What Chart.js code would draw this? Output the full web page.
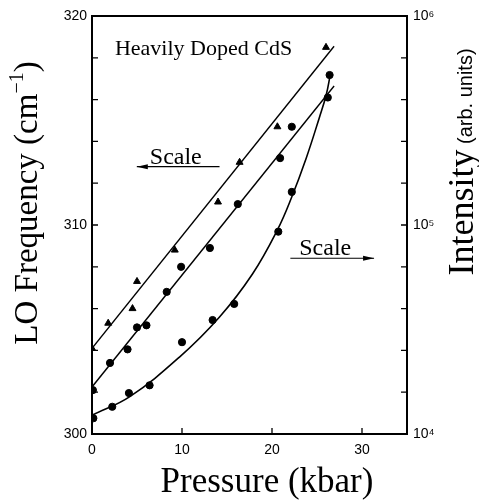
<!DOCTYPE html>
<html>
<head>
<meta charset="utf-8">
<script src="https://cdn.jsdelivr.net/npm/chart.js@4"></script>
<style>
  body { margin: 0; background: #fff; }
  #wrap { width: 479px; height: 500px; position: relative; }
</style>
</head>
<body>
<div id="wrap"><canvas id="loChart"></canvas></div>
<script>
// LO phonon frequency (triangles, upper fit line)
const triPressure = [0, 1.8, 4.5, 5.0, 9.2, 14.0, 16.4, 20.6, 26.0];
const triFreq = [304.1, 305.3, 306.0, 307.3, 308.8, 311.1, 313.0, 314.7, 318.5];
const triFitPressure = [0, 26.9];
const triFitFreq = [304.1, 318.55];

// LO phonon frequency (dots, lower fit line)
const dotPressure = [0.1, 2.0, 3.95, 5.0, 6.05, 8.3, 9.9, 13.1, 16.2, 20.9, 22.2, 26.2];
const dotFreq = [302.1, 303.4, 304.05, 305.1, 305.2, 306.8, 308.0, 308.9, 311.0, 313.2, 314.7, 316.1];
const dotFitPressure = [0, 26.9];
const dotFitFreq = [302.25, 316.65];

// Intensity (right, log axis)
const intPressure = [0.15, 2.25, 4.1, 6.4, 10.0, 13.4, 15.8, 20.7, 22.2, 26.4];
const intensity = [11900, 13500, 15700, 17100, 27500, 35100, 41900, 92900, 144000, 522000];
const intFitPressure = [0, 4.2, 9.75, 14.17, 17.83, 20.6, 22.15, 23.81, 25.25, 26.02, 26.47];
const intFit = [12300, 15100, 23400, 36300, 58300, 94700, 134600, 209400, 325300, 418800, 522800];

// axes
const xTicks = [0, 10, 20, 30];
const freqTicks = [300, 302, 304, 306, 308, 310, 312, 314, 316, 318, 320];
const freqLabels = ['300', '', '', '', '', '310', '', '', '', '', '320'];
const intTicks = [1e4, 1.585e4, 2.512e4, 3.981e4, 6.31e4, 1e5, 1.585e5, 2.512e5, 3.981e5, 6.31e5, 1e6];
const intLabels = ['10⁴', '', '', '', '', '10⁵', '', '', '', '', '10⁶'];

const pts = (xs, ys) => xs.map((x, i) => ({ x: x, y: ys[i] }));

const SERIF = '"Liberation Serif", "Times New Roman", serif';
const SANS = '"Liberation Sans", Arial, sans-serif';

const frame = {
    id: 'frame',
    afterDraw(chart) {
        const c = chart.ctx;
        const a = chart.chartArea;
        const sx = chart.scales.x, sy = chart.scales.y, sy2 = chart.scales.y2;
        c.save();
        c.strokeStyle = '#000';
        c.fillStyle = '#000';
        c.lineWidth = 2;
        c.strokeRect(a.left, a.top, a.right - a.left, a.bottom - a.top);

        // inward ticks
        c.lineWidth = 1.3;
        c.beginPath();
        xTicks.slice(1).forEach(v => {
            const px = sx.getPixelForValue(v);
            c.moveTo(px, a.bottom); c.lineTo(px, a.bottom - 6);
        });
        freqTicks.forEach(v => {
            const py = sy.getPixelForValue(v);
            c.moveTo(a.left, py); c.lineTo(a.left + 6, py);
        });
        intTicks.forEach(v => {
            const py = sy2.getPixelForValue(v);
            c.moveTo(a.right, py); c.lineTo(a.right - 6, py);
        });
        c.stroke();

        // annotations (placed in data units)
        const X = v => sx.getPixelForValue(v);
        const Y = v => sy.getPixelForValue(v);
        c.textBaseline = 'alphabetic';
        c.textAlign = 'left';
        c.font = '22px ' + SERIF;
        c.fillText('Heavily Doped CdS', X(2.55), Y(318.13));
        c.font = '24px ' + SERIF;
        c.fillText('Scale', X(6.42), Y(312.92));
        c.fillText('Scale', X(23.03), Y(308.56));

        const arrow = (x1, x2, y) => {
            c.lineWidth = 1.2;
            c.beginPath(); c.moveTo(x1, y); c.lineTo(x2, y); c.stroke();
            const d = x2 > x1 ? 1 : -1;
            c.beginPath();
            c.moveTo(x2, y);
            c.lineTo(x2 - d * 11, y - 2.5);
            c.lineTo(x2 - d * 11, y + 2.5);
            c.closePath(); c.fill();
        };
        arrow(X(14.17), X(4.98), Y(312.79));
        arrow(X(22.04), X(31.34), Y(308.41));

        // axis titles
        c.font = '35px ' + SERIF;
        c.textAlign = 'center';
        c.fillText('Pressure (kbar)', 267, 492);

        // left title, rotated
        c.save();
        c.translate(37, 203);
        c.rotate(-Math.PI / 2);
        c.textAlign = 'left';
        const p1 = 'LO Frequency (cm', p2 = '−1', p3 = ')';
        c.font = '33px ' + SERIF; const w1 = c.measureText(p1).width, w3 = c.measureText(p3).width;
        c.font = '20px ' + SERIF; const w2 = c.measureText(p2).width;
        let x0 = -(w1 + w2 + w3) / 2;
        c.font = '33px ' + SERIF; c.fillText(p1, x0, 0);
        c.font = '20px ' + SERIF; c.fillText(p2, x0 + w1, -14);
        c.font = '33px ' + SERIF; c.fillText(p3, x0 + w1 + w2, 0);
        c.restore();

        // right title, rotated
        c.save();
        c.translate(473, 162);
        c.rotate(-Math.PI / 2);
        c.textAlign = 'left';
        const q1 = 'Intensity', q2 = ' (arb. units)';
        c.font = '36px ' + SERIF; const v1 = c.measureText(q1).width;
        c.font = '20px ' + SANS; const v2 = c.measureText(q2).width;
        x0 = -(v1 + v2) / 2;
        c.font = '36px ' + SERIF; c.fillText(q1, x0, 0);
        c.font = '20px ' + SANS; c.fillText(q2, x0 + v1, -1);
        c.restore();

        c.restore();
    }
};

const ctx = document.getElementById('loChart').getContext('2d');
const loChart = new Chart(ctx, {
    type: 'scatter',
    data: {
        datasets: [
            {
                label: 'triangles',
                data: pts(triPressure, triFreq),
                pointStyle: 'triangle',
                pointRadius: 4,
                backgroundColor: '#000',
                borderColor: '#000',
                yAxisID: 'y',
            },
            {
                label: 'dots',
                data: pts(dotPressure, dotFreq),
                pointStyle: 'circle',
                pointRadius: 3.6,
                backgroundColor: '#000',
                borderColor: '#000',
                yAxisID: 'y',
            },
            {
                label: 'intensity',
                data: pts(intPressure, intensity),
                pointStyle: 'circle',
                pointRadius: 3.6,
                backgroundColor: '#000',
                borderColor: '#000',
                yAxisID: 'y2',
            },
            {
                label: 'fit 1',
                data: pts(triFitPressure, triFitFreq),
                showLine: true,
                pointRadius: 0,
                borderColor: '#000',
                borderWidth: 1.4,
                yAxisID: 'y',
            },
            {
                label: 'fit 2',
                data: pts(dotFitPressure, dotFitFreq),
                showLine: true,
                pointRadius: 0,
                borderColor: '#000',
                borderWidth: 1.4,
                yAxisID: 'y',
            },
            {
                label: 'fit 3',
                data: pts(intFitPressure, intFit),
                showLine: true,
                pointRadius: 0,
                borderColor: '#000',
                borderWidth: 1.6,
                tension: 0.4,
                yAxisID: 'y2',
            },
        ],
    },
    options: {
        responsive: true,
        maintainAspectRatio: false,
        animation: false,
        layout: { padding: { top: 16, left: 0, right: 0, bottom: 0 } },
        plugins: { legend: { display: false }, tooltip: { enabled: false } },
        scales: {
            x: {
                type: 'linear',
                min: 0,
                max: 35,
                afterBuildTicks: s => { s.ticks = xTicks.map(v => ({ value: v })); },
                afterFit: s => { s.height = 66; },
                grid: { display: false, drawTicks: false },
                border: { display: false },
                ticks: { color: '#000', padding: 8, font: { family: SANS, size: 14 } },
            },
            y: {
                type: 'linear',
                position: 'left',
                min: 300,
                max: 320,
                afterBuildTicks: s => { s.ticks = freqTicks.map(v => ({ value: v })); },
                afterFit: s => { s.width = 92; },
                grid: { display: false, drawTicks: false },
                border: { display: false },
                ticks: {
                    color: '#000', padding: 5, font: { family: SANS, size: 14 },
                    autoSkip: false,
                    callback: (v, i) => freqLabels[i],
                },
            },
            y2: {
                type: 'logarithmic',
                position: 'right',
                min: 1e4,
                max: 1e6,
                afterBuildTicks: s => { s.ticks = intTicks.map(v => ({ value: v })); },
                afterFit: s => { s.width = 72; },
                grid: { display: false, drawTicks: false },
                border: { display: false },
                ticks: {
                    color: '#000', padding: 6, font: { family: SANS, size: 14 },
                    autoSkip: false,
                    callback: (v, i) => intLabels[i],
                },
            },
        },
    },
    plugins: [frame],
});
</script>
</body>
</html>
